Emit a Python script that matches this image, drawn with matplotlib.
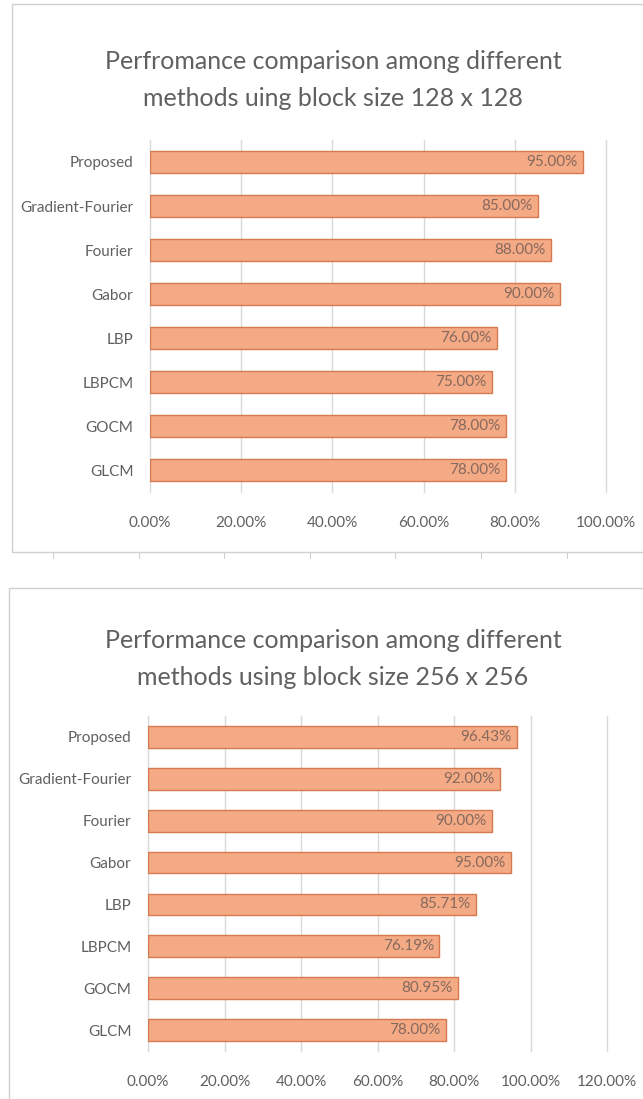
import matplotlib
matplotlib.use("Agg")
import matplotlib.pyplot as plt
from matplotlib.patches import Rectangle
from matplotlib.lines import Line2D
from matplotlib.ticker import FuncFormatter

plt.rcParams['font.family'] = ['Lato', 'DejaVu Sans']

categories = ["Proposed", "Gradient-Fourier", "Fourier", "Gabor", "LBP", "LBPCM", "GOCM", "GLCM"]
values_128 = [0.95, 0.85, 0.88, 0.90, 0.76, 0.75, 0.78, 0.78]
values_256 = [0.9643, 0.92, 0.90, 0.95, 0.8571, 0.7619, 0.8095, 0.78]
title_128 = "Perfromance comparison among different\nmethods uing block size 128 x 128"
title_256 = "Performance comparison among different\nmethods using block size 256 x 256"
ticks_128 = [0, 0.2, 0.4, 0.6, 0.8, 1.0]
ticks_256 = [0, 0.2, 0.4, 0.6, 0.8, 1.0, 1.2]

W, H = 643, 1099
fig = plt.figure(figsize=(W / 100, H / 100), dpi=100)

def box(x0, y0, x1, y1):
    return [x0 / W, 1 - y1 / H, (x1 - x0) / W, (y1 - y0) / H]

TXT = '#606060'
GRID = '#D9D9D9'
FILL = '#F4AA84'
EDGE = '#D47A4E'
LBL = '#86695E'

def panel(px):
    x0, y0, x1, y1 = px
    fig.patches.append(Rectangle((x0 / W, 1 - y1 / H), (x1 - x0) / W, (y1 - y0) / H,
                                 transform=fig.transFigure, fill=False,
                                 edgecolor='#D0D0D0', linewidth=1.0))

def chart(axbox, values, ticks, xmax, title, title_xy):
    ax = fig.add_axes(box(*axbox))
    ypos = list(range(len(categories)))
    ax.barh(ypos, values, height=0.52, color=FILL, edgecolor=EDGE, linewidth=1.0, zorder=3)
    ax.set_ylim(len(categories) - 0.5, -0.5)
    ax.set_xlim(0, xmax)
    ax.set_yticks(ypos)
    ax.set_yticklabels(categories, fontsize=11, color=TXT)
    ax.set_xticks(ticks)
    ax.xaxis.set_major_formatter(FuncFormatter(lambda v, p: f"{v*100:.2f}%"))
    for lab in ax.get_xticklabels():
        lab.set_fontsize(11)
        lab.set_color(TXT)
    ax.tick_params(axis='both', length=0)
    ax.tick_params(axis='x', pad=17)
    ax.tick_params(axis='y', pad=12)
    for s in ax.spines.values():
        s.set_visible(False)
    ax.grid(axis='x', color=GRID, linewidth=1.0, zorder=0)
    for gl in ax.get_xgridlines():
        gl.set_clip_on(False)
    ax.set_axisbelow(True)
    for i, v in enumerate(values):
        ax.text(v - xmax * 0.012, i, f"{v*100:.2f}%", ha='right', va='center',
                fontsize=11, color=LBL, zorder=4)
    fig.text(title_xy[0] / W, 1 - title_xy[1] / H, title, ha='center', va='center',
             fontsize=18, color=TXT, linespacing=1.75)
    return ax

# top panel
panel((12, 4, 660, 552))
chart((150, 140, 606, 492), values_128, ticks_128, 1.0, title_128, (333, 80))
# faint ticks below top panel
for x in [53, 139, 224, 310, 395, 481, 567]:
    fig.lines.append(Line2D([x / W, x / W], [1 - 552 / H, 1 - 558 / H],
                            transform=fig.transFigure, color='#D0D0D0', linewidth=0.8))

# bottom panel
panel((9, 588, 660, 1120))
chart((148, 716, 607, 1051), values_256, ticks_256, 1.2, title_256, (333, 659))

fig.savefig("out.png", dpi=100)
